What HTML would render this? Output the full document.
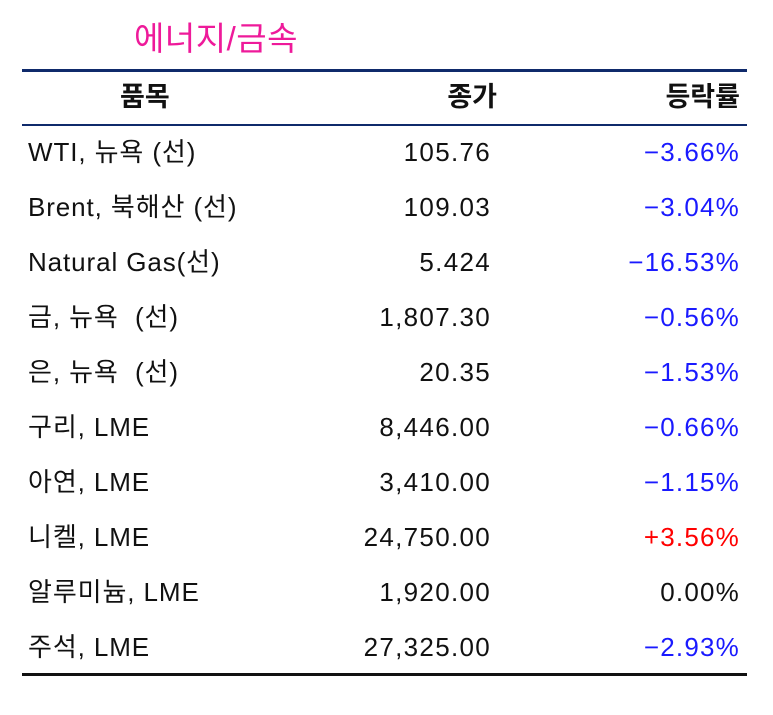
<!DOCTYPE html>
<html><head><meta charset="utf-8">
<style>
html,body{margin:0;padding:0;background:#fff;}
body{width:773px;height:715px;position:relative;overflow:hidden;font-family:"Liberation Sans","Noto Sans CJK KR",sans-serif;color:#111;}
.t{position:absolute;white-space:nowrap;line-height:1;}
.title{left:134px;top:22px;font-size:33px;color:#ee1a9a;letter-spacing:0.5px;}
.line{position:absolute;left:22px;width:725px;}
.h{font-size:27px;font-weight:bold;top:84px;}
.c1{left:28px;font-size:26px;letter-spacing:0.9px;}
.c2{right:282px;font-size:26px;letter-spacing:1.3px;text-align:right;}
.c3{right:33px;font-size:26px;letter-spacing:1.2px;text-align:right;}
</style></head><body>
<div class="t title">에너지/금속</div>
<div class="line" style="top:69px;height:3px;background:#0f2a6b"></div>
<div class="t h" style="left:120px">품목</div>
<div class="t h" style="right:276px">종가</div>
<div class="t h" style="right:33px">등락률</div>
<div class="line" style="top:124px;height:2px;background:#0f2a6b"></div>
<div id="rows"></div>
<div class="line" style="top:673px;height:3px;background:#111"></div>
<script>
const items=["WTI, 뉴욕 (선)","Brent, 북해산 (선)","Natural Gas(선)","금, 뉴욕  (선)","은, 뉴욕  (선)","구리, LME","아연, LME","니켈, LME","알루미늄, LME","주석, LME"];
const closes=["105.76","109.03","5.424","1,807.30","20.35","8,446.00","3,410.00","24,750.00","1,920.00","27,325.00"];
const changes=[-3.66,-3.04,-16.53,-0.56,-1.53,-0.66,-1.15,3.56,0.00,-2.93];
const rows=document.getElementById('rows');
items.forEach((it,i)=>{
  const top=139+i*55;
  const a=document.createElement('div');
  a.className='t c1';a.style.top=top+'px';a.style.whiteSpace='pre';a.textContent=it;
  
  
  rows.appendChild(a);
  const b=document.createElement('div');
  b.className='t c2';b.style.top=top+'px';b.textContent=closes[i];
  
  
  rows.appendChild(b);
  const c=document.createElement('div');
  const v=changes[i];
  c.className='t c3';c.style.top=top+'px';
  c.textContent=(v>0?'+':v<0?'−':'')+Math.abs(v).toFixed(2)+'%';
  c.style.color=v>0?'#ff0000':v<0?'#1a1aff':'#111';
  
  
  rows.appendChild(c);
});
</script>
</body></html>
